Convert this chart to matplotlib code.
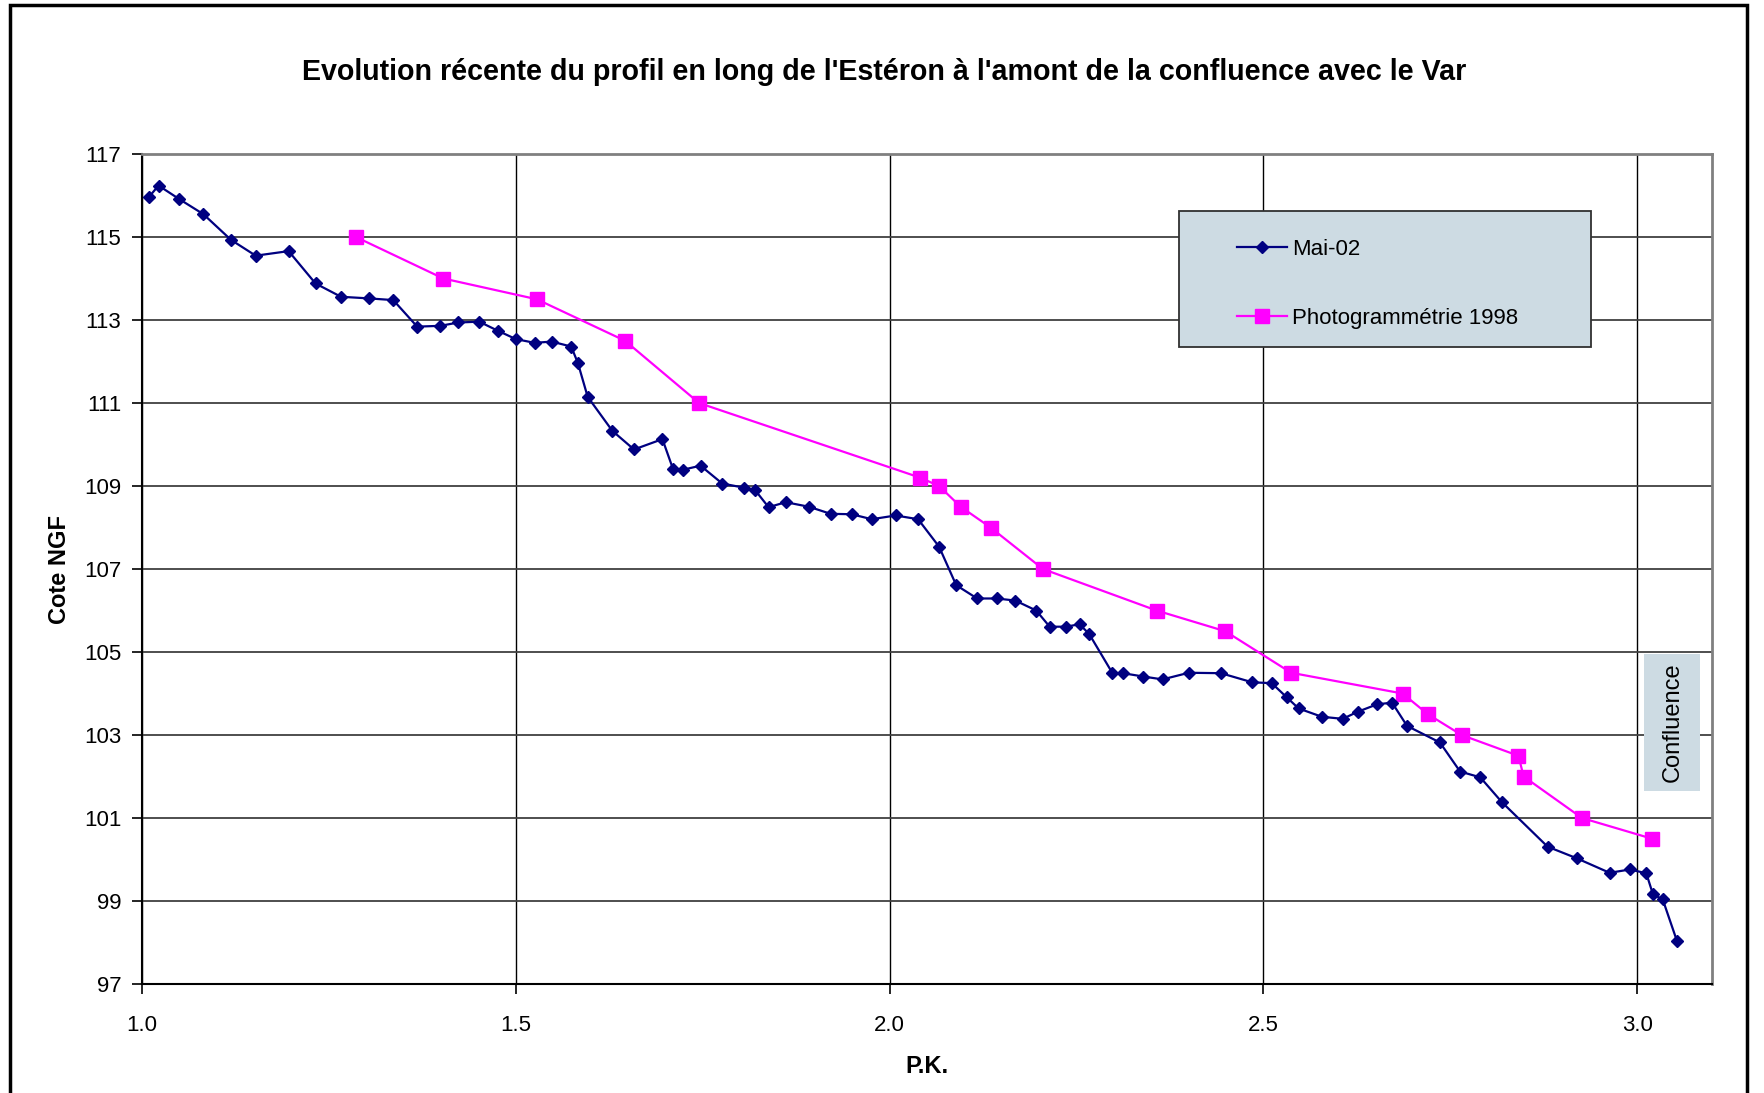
import matplotlib
matplotlib.use("Agg")
import matplotlib.pyplot as plt
from matplotlib.patches import Rectangle

plt.rcParams['font.family'] = ['Liberation Sans', 'DejaVu Sans']

# --- data ---
pk_mai = [1.009, 1.022, 1.050, 1.082, 1.119, 1.152, 1.196, 1.232, 1.266, 1.304,
          1.336, 1.368, 1.399, 1.423, 1.451, 1.476, 1.500, 1.525, 1.548, 1.574,
          1.583, 1.596, 1.629, 1.658, 1.696, 1.710, 1.723, 1.747, 1.776, 1.805,
          1.820, 1.838, 1.861, 1.892, 1.921, 1.949, 1.976, 2.008, 2.038, 2.066,
          2.089, 2.117, 2.143, 2.168, 2.196, 2.214, 2.236, 2.254, 2.267, 2.298,
          2.312, 2.339, 2.365, 2.400, 2.443, 2.485, 2.511, 2.531, 2.547, 2.578,
          2.606, 2.626, 2.652, 2.672, 2.692, 2.736, 2.763, 2.790, 2.819, 2.880,
          2.919, 2.963, 2.990, 3.012, 3.021, 3.034, 3.053]
cote_mai = [115.96, 116.24, 115.91, 115.55, 114.93, 114.55, 114.66, 113.88, 113.56, 113.52,
            113.48, 112.84, 112.86, 112.94, 112.96, 112.74, 112.54, 112.45, 112.48, 112.36,
            111.96, 111.15, 110.33, 109.88, 110.13, 109.42, 109.39, 109.49, 109.06, 108.96,
            108.90, 108.49, 108.61, 108.50, 108.33, 108.32, 108.20, 108.29, 108.20, 107.54,
            106.61, 106.29, 106.29, 106.24, 106.00, 105.61, 105.61, 105.67, 105.43, 104.49,
            104.49, 104.41, 104.34, 104.50, 104.49, 104.27, 104.25, 103.91, 103.64, 103.44,
            103.39, 103.56, 103.74, 103.78, 103.22, 102.82, 102.12, 101.98, 101.38, 100.31,
            100.03, 99.68, 99.76, 99.67, 99.16, 99.04, 98.04]

pk_1998 = [1.286, 1.403, 1.528, 1.646, 1.745, 2.041, 2.066, 2.095, 2.135, 2.205,
           2.357, 2.449, 2.537, 2.686, 2.720, 2.765, 2.841, 2.848, 2.926, 3.020]
cote_1998 = [115, 114, 113.5, 112.5, 111, 109.2, 109, 108.5, 108, 107,
             106, 105.5, 104.5, 104, 103.5, 103, 102.5, 102, 101, 100.5]

xticks = [1.0, 1.5, 2.0, 2.5, 3.0]
yticks = [97, 99, 101, 103, 105, 107, 109, 111, 113, 115, 117]

fig = plt.figure(figsize=(17.65, 10.93), dpi=100)
ax = fig.add_axes([0.0805, 0.0997, 0.8895, 0.7594])

ax.plot(pk_mai, cote_mai, color='#000080', lw=1.6, marker='D', ms=6.5,
        label='Mai-02', zorder=4)
ax.plot(pk_1998, cote_1998, color='#FF00FF', lw=1.6, marker='s', ms=10,
        label='Photogrammétrie 1998', zorder=3)

ax.set_xlim(1.0, 3.1)
ax.set_ylim(97, 117)
ax.set_xticks(xticks)
ax.set_xticklabels(['%.1f' % t for t in xticks])
ax.set_yticks(yticks)
ax.tick_params(axis='both', labelsize=16, direction='out', length=7, width=1.2)
ax.tick_params(axis='x', pad=15)
ax.tick_params(axis='y', pad=8)

ax.grid(axis='y', color='#404040', lw=1.3, zorder=0)
ax.grid(axis='x', color='black', lw=1.0, zorder=0)
ax.set_axisbelow(True)

ax.spines['top'].set_color('#808080')
ax.spines['right'].set_color('#808080')
ax.spines['top'].set_linewidth(2)
ax.spines['right'].set_linewidth(2)
ax.spines['left'].set_linewidth(1.5)
ax.spines['bottom'].set_linewidth(1.5)

ax.set_xlabel('P.K.', fontsize=17, fontweight='bold', labelpad=14)
ax.set_ylabel('Cote NGF', fontsize=17, fontweight='bold', labelpad=9)

fig.text(0.501, 0.934, "Evolution récente du profil en long de l'Estéron à l'amont de la confluence avec le Var",
         ha='center', va='center', fontsize=20.6, fontweight='bold')

# legend box
ax.add_patch(Rectangle((0.6605, 0.7675), 0.2625, 0.1635, transform=ax.transAxes,
                       facecolor='#CDDBE3', edgecolor='#303030', lw=1.3, zorder=5))
ax.legend(loc='center', bbox_to_anchor=(0.787, 0.8435), frameon=False, fontsize=16,
          labelspacing=2.15, handlelength=2.25, handletextpad=0.2).set_zorder(6)

# "Confluence" label box
ax.add_patch(Rectangle((3.0094, 101.65), 0.0748, 3.30, facecolor='#CDDBE3',
                       edgecolor='none', zorder=5))
ax.text(3.0468, 103.30, 'Confluence', rotation=90, ha='center', va='center',
        fontsize=17, zorder=6)

# outer frame
fig.add_artist(Rectangle((10 / 1765, -0.02), 1747 / 1765 - 10 / 1765, 1.02 - 5 / 1093,
                         transform=fig.transFigure, fill=False, edgecolor='black', lw=2.5))

fig.savefig('out.png', dpi=100)
